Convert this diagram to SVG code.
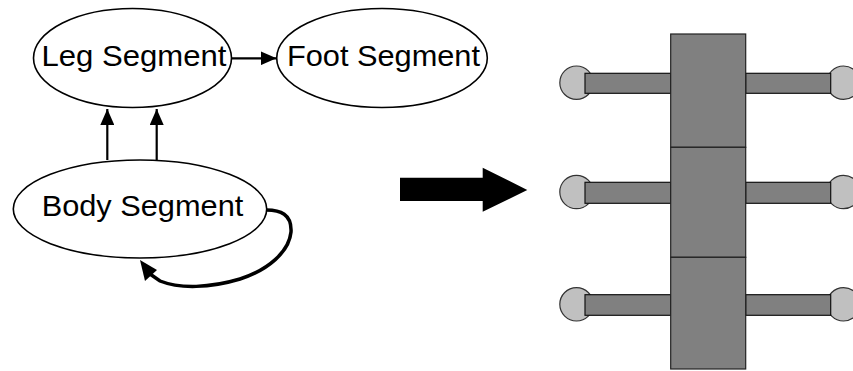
<svg xmlns="http://www.w3.org/2000/svg" width="853" height="371" viewBox="0 0 853 371">
<style>
.node ellipse{fill:#fff;stroke:#000;stroke-width:1.6}
.lbl{font-family:"Liberation Sans",Arial,sans-serif;font-size:29.5px;fill:#000;text-anchor:middle}
.conn{fill:none;stroke:#000;stroke-width:2.2}
.seg{fill:#808080;stroke:#222;stroke-width:1.2}
.arm{fill:#808080;stroke:#111;stroke-width:1.2}
.ball{fill:#c0c0c0;stroke:#333;stroke-width:1.2}
</style>
<defs>
<marker id="ah2" markerWidth="16" markerHeight="14" refX="16" refY="7" orient="auto" markerUnits="userSpaceOnUse" viewBox="0 0 16 14">
<path d="M0,0 L16,7 L0,14 Z" fill="#000"/>
</marker>
</defs>
<g id="leg-segment" class="node">
<ellipse cx="132.5" cy="58" rx="99" ry="49.5"/>
<text class="lbl" x="134" y="66" textLength="185" lengthAdjust="spacingAndGlyphs">Leg Segment</text>
</g>
<g id="foot-segment" class="node">
<ellipse cx="382" cy="58" rx="105.3" ry="49.5"/>
<text class="lbl" x="383.5" y="66" textLength="193" lengthAdjust="spacingAndGlyphs">Foot Segment</text>
</g>
<g id="body-segment" class="node">
<ellipse cx="140" cy="209" rx="126.7" ry="49"/>
<text class="lbl" x="142.5" y="216" textLength="201.7" lengthAdjust="spacingAndGlyphs">Body Segment</text>
</g>
<g id="connectors">
<line class="conn" x1="232" y1="58.3" x2="276.5" y2="58.3" marker-end="url(#ah2)"/>
<line class="conn" x1="107.3" y1="160" x2="107.3" y2="109" marker-end="url(#ah2)"/>
<line class="conn" x1="156.7" y1="160" x2="156.7" y2="109" marker-end="url(#ah2)"/>
<path class="conn" style="stroke-width:3.5" d="M266.5,210 C280,210 292,214 291,232 C289,252 268,270 240,279 C210,288 180,289 160,281 L150,274"/>
<path d="M140,260 L157,270 L145,281 Z" fill="#000"/>
</g>
<g id="big-arrow">
<path d="M400,177.7 L482.7,177.7 L482.7,167.7 L527.3,190 L482.7,211.7 L482.7,201 L400,201 Z" fill="#000"/>
</g>
<g id="robot">
<circle class="ball" cx="576.5" cy="82.7" r="16.7"/>
<circle class="ball" cx="576.5" cy="192" r="16.7"/>
<circle class="ball" cx="576.5" cy="304.3" r="16.7"/>
<circle class="ball" cx="843.5" cy="82.7" r="16.7"/>
<circle class="ball" cx="843.5" cy="192" r="16.7"/>
<circle class="ball" cx="843.5" cy="304.3" r="16.7"/>
<rect class="arm" x="585" y="73.3" width="86" height="20"/>
<rect class="arm" x="585" y="182.3" width="86" height="21"/>
<rect class="arm" x="585" y="294.7" width="86" height="20.6"/>
<rect class="arm" x="745.7" y="73.3" width="85" height="20"/>
<rect class="arm" x="745.7" y="182.3" width="85" height="21"/>
<rect class="arm" x="745.7" y="294.7" width="85" height="20.6"/>
<rect class="seg" x="670.7" y="34" width="75" height="113.3"/>
<rect class="seg" x="670.7" y="147.3" width="75" height="110"/>
<rect class="seg" x="670.7" y="257.3" width="75" height="111.7"/>
</g>
</svg>
